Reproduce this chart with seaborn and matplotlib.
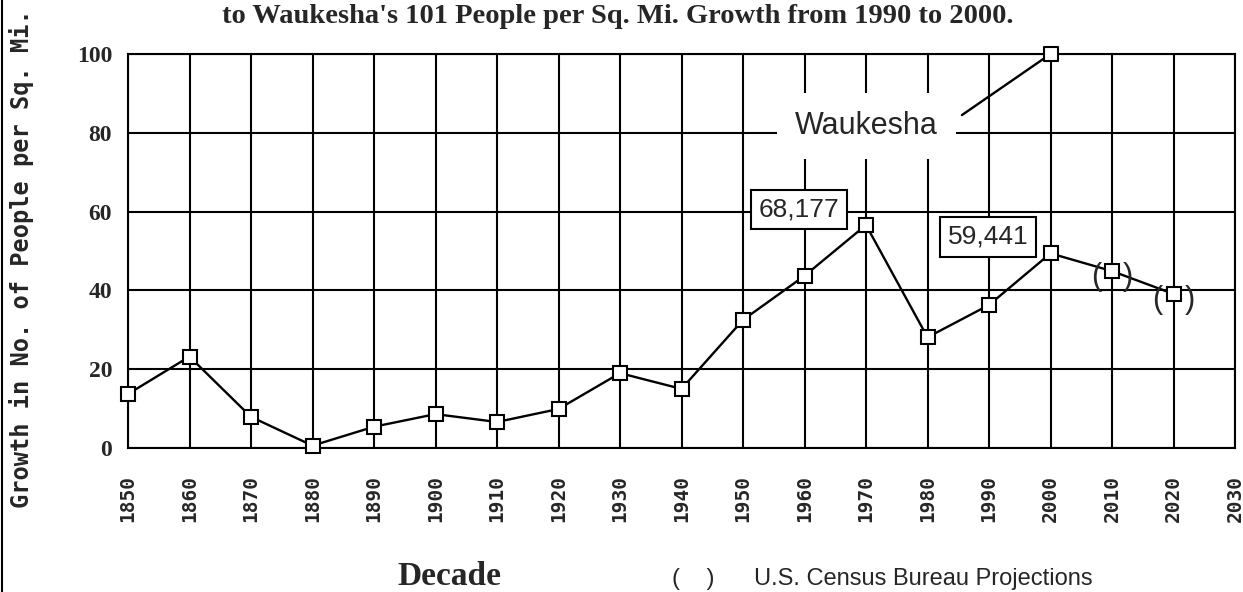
import pandas as pd
import numpy as np
import matplotlib.pyplot as plt
import seaborn as sns

decades = [1850, 1860, 1870, 1880, 1890, 1900, 1910, 1920, 1930,
           1940, 1950, 1960, 1970, 1980, 1990, 2000, 2010, 2020]
growth = [13.7, 23.2, 7.9, 0.6, 5.4, 8.6, 6.6, 9.9, 19.0,
          15.0, 32.5, 43.7, 56.6, 28.1, 36.3, 49.4, 44.9, 39.1]
projected = [2010, 2020]
waukesha_year = [2000]
waukesha_growth = [100]
label_1970 = '68,177'
label_2000 = '59,441'

sns.set_style('white')
plt.rcParams['font.family'] = ['Liberation Serif', 'DejaVu Serif']

fig = plt.figure(figsize=(12.43, 5.92), dpi=100)
ax = fig.add_axes([128 / 1243, 144 / 592, 1107 / 1243, 394 / 592])

df = pd.DataFrame({'decade': decades, 'growth': growth})
sns.lineplot(data=df, x='decade', y='growth', ax=ax, color='black', lw=1.7,
             marker='s', markersize=10.5, markerfacecolor='white',
             markeredgecolor='black', markeredgewidth=1.5, zorder=5,
             clip_on=False)

# Waukesha point and leader line
ax.annotate('', xy=(waukesha_year[0], waukesha_growth[0]), xytext=(1985.6, 84.5),
            arrowprops=dict(arrowstyle='-', lw=1.7, color='black',
                            shrinkA=0, shrinkB=0), zorder=4, annotation_clip=False)
sns.scatterplot(x=waukesha_year, y=waukesha_growth, ax=ax, marker='s', s=110,
                facecolor='white', edgecolor='black', linewidth=1.5, zorder=6,
                clip_on=False)

ax.set_xlim(1850, 2030)
ax.set_ylim(0, 100)
ax.set_xticks(np.arange(1850, 2031, 10))
ax.set_yticks(np.arange(0, 101, 20))
ax.grid(True, color='black', lw=1.5)
for s in ax.spines.values():
    s.set_color('black')
    s.set_linewidth(1.5)
ax.tick_params(axis='both', direction='out', length=9.5, width=1.5, color='black')
ax.tick_params(axis='y', pad=2)
ax.tick_params(axis='x', pad=10)
ax.set_xlabel('')
ax.set_ylabel('')

for t in ax.get_yticklabels():
    t.set_fontsize(17)
    t.set_fontweight('bold')
for t in ax.get_xticklabels():
    t.set_rotation(90)
    t.set_family('DejaVu Sans Mono')
    t.set_fontweight('bold')
    t.set_fontsize(14)

# labels
ax.text(1970.1, 81.7, 'Waukesha', family='Liberation Sans', fontsize=22,
        ha='center', va='center', zorder=3,
        bbox=dict(boxstyle='square,pad=0.6', fc='white', ec='none'))
ax.text(1959.1, 60.5, label_1970, family='Liberation Sans', fontsize=19,
        ha='center', va='center', zorder=7,
        bbox=dict(boxstyle='square,pad=0.28', fc='white', ec='black', lw=1.5))
ax.text(1989.8, 53.6, label_2000, family='Liberation Sans', fontsize=19,
        ha='center', va='center', zorder=7,
        bbox=dict(boxstyle='square,pad=0.3', fc='white', ec='black', lw=1.5))

for yr in projected:
    val = growth[decades.index(yr)]
    for ch, dx in (('(', -16), (')', 16)):
        ax.annotate(ch, xy=(yr, val), xytext=(dx, -6), textcoords='offset pixels',
                    family='Liberation Sans', fontsize=22, ha='center',
                    va='center', zorder=8)

fig.text(618 / 1243, 1 - 23 / 592,
         "to Waukesha's 101 People per Sq. Mi. Growth from 1990 to 2000.",
         ha='center', va='baseline', fontsize=20.5, fontweight='bold')
fig.text(22 / 1243, 1 - 259 / 592, 'Growth in No. of People per Sq. Mi.',
         rotation=90, ha='center', va='center', family='DejaVu Sans Mono',
         fontweight='bold', fontsize=17)
fig.text(449 / 1243, 1 - 585 / 592, 'Decade', ha='center', va='baseline',
         fontsize=24, fontweight='bold')
fig.text(672 / 1243, 1 - 585 / 592, '(    )', ha='left', va='baseline',
         family='Liberation Sans', fontsize=17)
fig.text(754 / 1243, 1 - 585 / 592, 'U.S. Census Bureau Projections',
         ha='left', va='baseline', family='Liberation Sans', fontsize=17)

# left border line
fig.add_artist(plt.Line2D([1.5 / 1243, 1.5 / 1243], [0, 1], color='black', lw=1.5))

fig.savefig('out.png', dpi=100)
